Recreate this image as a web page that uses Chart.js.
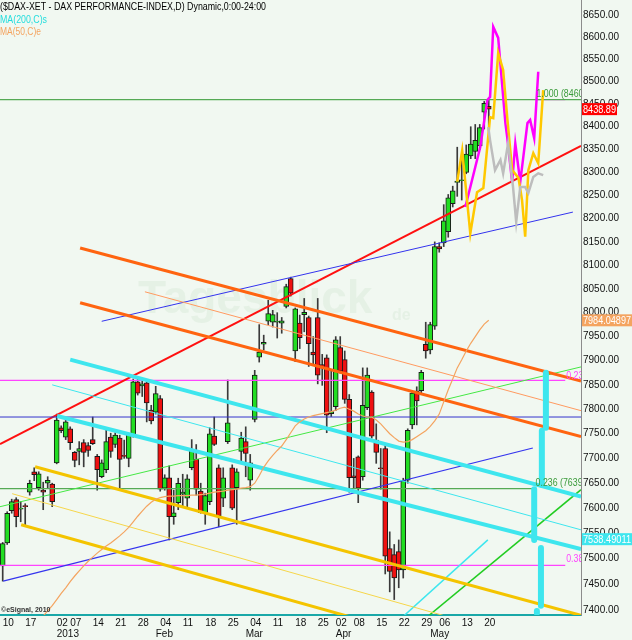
<!DOCTYPE html>
<html>
<head>
<meta charset="utf-8">
<script src="https://cdn.jsdelivr.net/npm/chart.js"></script>
<style>
  html, body { margin: 0; padding: 0; background: #f1f8f1; }
</style>
</head>
<body>
<canvas id="graph" width="632" height="640"></canvas>
<script>
// daily candles, index 0 = 10 Dec 2012 ... 108 = 21 May 2013
const opens = [7486,7531,7595,7617,7598,7605,7632,7673,7641,7636,7650,7648,7691,7762,7743,7760,7712,7714,7732,7726,
  7738,7704,7663,7677,7743,7728,7741,7706,7700,7747,7856,7848,7854,7798,7794,7822,7640,7661,7583,7611,
  7628,7620,7681,7698,7634,7591,7613,7745,7681,7620,7734,7681,7641,7714,7734,7656,7779,7907,7934,7982,
  7980,7980,7978,8013,8072,7920,7978,7996,7990,7918,7990,7892,7906,7791,7805,7927,7902,7820,7665,7703,
  7663,7803,7835,7737,7681,7720,7520,7508,7514,7478,7656,7768,7837,7838,7934,7922,7972,8140,8148,8172,
  8232,8278,8282,8300,8336,8346,8358,8432,8445];
const highs = [7532,7593,7618,7621,7613,7609,7656,7681,7673,7652,7663,7650,7790,7766,7780,7764,7714,7734,7738,7732,
  7784,7708,7697,7762,7751,7752,7747,7737,7751,7862,7862,7862,7860,7808,7847,7828,7667,7685,7636,7660,
  7668,7667,7738,7728,7650,7630,7762,7784,7687,7681,7860,7687,7679,7753,7764,7708,7880,7975,7953,8026,
  8005,8000,7990,8060,8075,8010,7995,8030,7993,7950,8030,7913,7912,7880,7950,7950,7920,7830,7700,7705,
  7885,7885,7838,7770,7720,7726,7553,7528,7537,7660,7760,7838,7846,7880,7980,7980,8150,8148,8230,8252,
  8270,8355,8330,8360,8400,8405,8405,8456,8460];
const lows = [7456,7528,7590,7563,7573,7565,7626,7655,7636,7597,7640,7603,7689,7752,7738,7718,7683,7687,7683,7704,
  7728,7636,7661,7671,7702,7722,7636,7700,7683,7743,7829,7826,7774,7770,7790,7634,7636,7537,7568,7597,
  7603,7601,7677,7626,7590,7568,7607,7726,7563,7603,7730,7597,7568,7693,7663,7636,7774,7897,7922,7975,
  7970,7947,7957,8010,8035,7898,7925,7960,7888,7890,7852,7849,7752,7785,7797,7874,7812,7632,7640,7611,
  7656,7799,7741,7690,7638,7470,7435,7420,7443,7462,7650,7760,7768,7830,7905,7914,7965,8128,8140,8160,
  8225,8248,8240,8297,8330,8330,8350,8395,8392];
const closes = [7530,7590,7613,7583,7600,7603,7650,7667,7669,7632,7656,7613,7778,7756,7774,7732,7696,7720,7712,7716,
  7730,7677,7691,7734,7714,7747,7698,7704,7747,7856,7833,7852,7813,7776,7832,7638,7661,7583,7591,7650,
  7632,7659,7714,7638,7591,7625,7750,7728,7585,7661,7772,7600,7673,7741,7710,7691,7870,7918,7938,7998,
  7996,7982,7983,8055,8041,8008,7948,8001,7935,7912,7870,7885,7788,7795,7943,7878,7820,7661,7661,7640,
  7808,7870,7745,7712,7679,7505,7475,7462,7478,7656,7757,7833,7817,7876,7920,7975,8140,8135,8195,8245,
  8260,8281,8284,8340,8362,8370,8398,8452,8438.89];

// MA(50,C)e
const ma50 = [null,null,null,null,null,null,null,null,7370,7388,7398,7408,7420,7432,7443,7455,7466,7476,7486,7495,
  7503,7511,7518,7525,7531,7538,7545,7553,7562,7573,7584,7594,7604,7612,7618,7621,7623,7624,7624,7625,
  7625,7625,7626,7626,7627,7628,7630,7632,7633,7634,7636,7637,7638,7640,7641,7643,7650,7665,7682,7695,
  7706,7716,7725,7738,7752,7766,7774,7780,7784,7787,7789,7791,7793,7795,7798,7802,7804,7800,7796,7790,
  7786,7784,7784,7778,7770,7760,7750,7742,7735,7733,7734,7738,7744,7750,7756,7765,7776,7790,7815,7840,
  7862,7885,7902,7920,7936,7950,7964,7976,7984];

// projection paths on the right
const magX = [102.8,106.1,107.7,108.3,109.0,110.1,111.7,112.1,113.2,113.9,115.0,116.6,117.2,118.1,119.0];
const magY = [8225,8355,8459,8466,8623,8598,8408,8377,8279,8363,8279,8408,8415,8375,8522];
const goldX = [101.0,102.1,103.9,105.4,106.8,108.3,109.0,110.1,111.2,112.1,113.2,114.6,115.4,116.1,116.8,117.9,119.0,120.1];
const goldY = [8280,8348,8168,8257,8266,8421,8419,8564,8526,8421,8305,8288,8240,8161,8305,8342,8320,8481];
const greyX = [107.9,108.3,109.4,110.6,111.2,112.3,113.4,114.1,115.0,116.1,116.8,117.9,119.0,120.1];
const greyY = [8399,8370,8305,8327,8298,8363,8268,8193,8268,8268,8255,8290,8298,8294];

// trend lines: [index, price] end points
const redTrend = [[-0.6, 7729], [128.5, 8358]];
const blueUpper = [[22, 7982], [126.7, 8214]];
const blueLower = [[0.1, 7456], [117.8, 7721]];
const orangeUpper = [[17.2, 8137], [128.5, 7858]];
const orangeLower = [[17.2, 8021], [128.5, 7744]];
const orangeThin = [[31.6, 8044], [128.5, 7797]];
const cyanUpper = [[15, 7902], [128.5, 7623]];
const cyanLower = [[12.1, 7786], [128.5, 7519]];
const cyanThin = [[11, 7850], [128.5, 7557]];
const goldUpper = [[7.2, 7683], [132, 7381]];
const goldLower = [[4.1, 7567], [79.4, 7381]];
const yellowThin = [[2.1, 7629], [101.2, 7381]];
const greenRise = [[-0.6, 7603], [128.5, 7887]];
const greenSteep = [[93.6, 7381], [128.5, 7637]];
const cyanSteep = [[88.2, 7381], [107.8, 7537]];
const blueLevel = 7784;
const greenFib = [[8460, 128.5, '1.000 (8460.11)'], [7639, 117.8, '0.236 (7639.51)']];
const magentaFib = [[7859, 125, '0.236 (7859.27)'], [7487, 125, '0.382 (7487.22)']];
const magentaTop = [[118.7, 8460], [125, 8460]];

// cyan vertical markers
const markX = [120.7, 119.8, 118.1, 119.6, 118.7];
const markTop = [7875, 7756, 7638, 7521, 7398];
const markBot = [7762, 7647, 7537, 7408, 7394];

const yTicks = [];
for (let v = 7400; v <= 8650; v += 50) yTicks.push(v);
const xTickIdx = [0,5,12,15,20,25,30,34,35,40,45,50,54,55,60,65,70,74,78,83,88,93,95,97,102,107];
const xTickTop = ['10','17','02','07','14','21','28','','04','11','18','25','','04','11','18','25','02','08','15','22','29','','06','13','20'];
const xTickBottom = ['','','2013','','','','','Feb','','','','','Mar','','','','','Apr','','','','','May','','',''];

const lastClose = 8438.89;
const ma50Last = 7984.04897;
const ma200Last = 7538.49011;

const sans = '"Liberation Sans", Arial, sans-serif';

function line(pts, color, width, order) {
  return {
    type: 'line',
    data: pts.map(p => ({x: p[0], y: p[1]})),
    borderColor: color,
    borderWidth: width,
    pointRadius: 0,
    tension: 0,
    fill: false,
    order: order || 2
  };
}
function zip(xs, ys) {
  return xs.map((x, i) => [x, ys[i]]);
}

const idx = opens.map((_, i) => i);
const datasets = [];

datasets.push({
  type: 'bar',
  data: idx.map(i => ({x: i, y: [lows[i], highs[i]]})),
  backgroundColor: '#3a3a3a',
  borderWidth: 0,
  barThickness: 1,
  grouped: false,
  order: 6
});
datasets.push({
  type: 'bar',
  data: idx.map(i => ({x: i, y: [opens[i], closes[i]]})),
  backgroundColor: idx.map(i => closes[i] >= opens[i] ? '#22dd22' : '#ee1111'),
  borderColor: '#1a1a1a',
  borderWidth: 1,
  borderSkipped: false,
  barThickness: 5,
  grouped: false,
  order: 5
});

datasets.push(line(goldUpper, '#f4c400', 3));
datasets.push(line(goldLower, '#f4c400', 3));
datasets.push(line(yellowThin, '#f6d64a', 1));
datasets.push(line(cyanUpper, '#3ee6ee', 4));
datasets.push(line(cyanLower, '#3ee6ee', 4));
datasets.push(line(cyanThin, '#3ee6ee', 1));
datasets.push(line(orangeUpper, '#ff6410', 3));
datasets.push(line(orangeLower, '#ff6410', 3));
datasets.push(line(orangeThin, '#ff9a60', 1));
datasets.push(line(greenRise, '#44e844', 1));
datasets.push(line(greenSteep, '#22cc22', 1.5));
datasets.push(line(cyanSteep, '#3ee6ee', 1.5));
datasets.push(line(blueUpper, '#3333ee', 1));
datasets.push(line(blueLower, '#3333ee', 1.2));
datasets.push(line([[-0.6, blueLevel], [128.5, blueLevel]], '#3333cc', 1));
datasets.push(line(redTrend, '#ff1010', 2));
greenFib.forEach(f => datasets.push(line([[-0.6, f[0]], [f[1], f[0]]], '#55aa55', 1.2)));
magentaFib.forEach(f => datasets.push(line([[-0.6, f[0]], [f[1], f[0]]], '#ff44ff', 1.2)));
datasets.push(line(magentaTop, '#ff44ff', 1.2));

datasets.push(Object.assign(line(idx.map(i => [i, ma50[i]]).filter(p => p[1] !== null), '#f4a460', 1.2), {order: 1}));
datasets.push(line(zip(greyX, greyY), '#bdbdbd', 2.5, 1));
datasets.push(line(zip(goldX, goldY), '#ffc800', 2.5, 1));
datasets.push(line(zip(magX, magY), '#ff00ff', 2.5, 1));
markX.forEach((x, i) => {
  const d = line([[x, markTop[i]], [x, markBot[i]]], '#3ee6ee', 6, 1);
  d.borderCapStyle = 'round';
  datasets.push(d);
});

// text squeezed sideways to a given width (the source uses a narrow face)
function fitText(c, text, x, y, color, width) {
  c.save();
  c.font = '11px ' + sans;
  const w = c.measureText(text).width;
  c.translate(x, y);
  c.scale(width / w, 1);
  c.fillStyle = color;
  c.textBaseline = 'middle';
  c.textAlign = 'left';
  c.fillText(text, 0, 0);
  c.restore();
}
function narrowText(c, text, x, y, color) {
  c.save();
  c.font = '11px ' + sans;
  const w = c.measureText(text).width;
  c.restore();
  fitText(c, text, x, y, color, w * 0.8);
}

function tag(c, y, text, bg, w, tw) {
  c.fillStyle = bg;
  c.fillRect(582, y - 6, w, 12);
  fitText(c, text, 583, y + 0.5, '#ffffff', tw);
}

const decor = {
  id: 'decor',
  beforeDatasetsDraw(chart) {
    const c = chart.ctx;
    c.save();
    c.fillStyle = 'rgba(170, 205, 170, 0.17)';
    c.font = 'bold 46px ' + sans;
    c.textBaseline = 'alphabetic';
    c.fillText('Tagesblick', 138, 313);
    c.font = 'bold 16px ' + sans;
    c.fillText('de', 392, 320);
    c.restore();
  },
  afterDraw(chart) {
    const c = chart.ctx;
    const ys = chart.scales.y, xs = chart.scales.x, a = chart.chartArea;
    fitText(c, '($DAX-XET - DAX PERFORMANCE-INDEX,D) Dynamic,0:00-24:00', 0, 7, '#000000', 266);
    fitText(c, 'MA(200,C)s', 0, 20, '#22dddd', 47);
    fitText(c, 'MA(50,C)e', 0, 32, '#f4a460', 41);
    c.save();
    c.font = 'bold 7px ' + sans;
    c.fillStyle = '#333333';
    c.textBaseline = 'middle';
    c.fillText('\u00a9eSignal, 2010', 1, 610);
    c.restore();

    // fib labels, cut at the plot edge
    c.save();
    c.beginPath();
    c.rect(a.left, a.top, a.width, a.height);
    c.clip();
    narrowText(c, greenFib[0][2], xs.getPixelForValue(118.6), ys.getPixelForValue(greenFib[0][0]) - 6, '#3a9a3a');
    narrowText(c, greenFib[1][2], xs.getPixelForValue(118.4), ys.getPixelForValue(greenFib[1][0]) - 6, '#3a9a3a');
    narrowText(c, magentaFib[0][2], xs.getPixelForValue(125.2), ys.getPixelForValue(magentaFib[0][0]) - 5, '#ff44ff');
    narrowText(c, magentaFib[1][2], xs.getPixelForValue(125.2), ys.getPixelForValue(magentaFib[1][0]) - 6, '#ff44ff');
    c.restore();

    tag(c, ys.getPixelForValue(lastClose), lastClose.toFixed(2), '#ff0000', 35, 33);
    tag(c, ys.getPixelForValue(ma50Last), String(ma50Last), '#f4a460', 50, 48);
    tag(c, ys.getPixelForValue(ma200Last), String(ma200Last), '#3ee6ee', 50, 48);
  }
};

const graph = document.getElementById('graph').getContext('2d');

let myChart = new Chart(graph, {
  type: 'bar',
  data: { datasets: datasets },
  options: {
    responsive: false,
    animation: false,
    events: [],
    layout: { padding: 0 },
    plugins: { legend: { display: false }, tooltip: { enabled: false } },
    scales: {
      x: {
        type: 'linear',
        min: -0.6,
        max: 128.5,
        offset: false,
        afterBuildTicks: s => { s.ticks = xTickIdx.map(v => ({value: v})); },
        afterFit: s => { s.height = 25; s.paddingLeft = 0; s.paddingRight = 0; },
        ticks: {
          autoSkip: false,
          maxRotation: 0,
          align: 'start',
          padding: 3,
          color: '#111111',
          font: { family: sans, size: 10, lineHeight: 1.1 },
          callback: v => {
            const k = xTickIdx.indexOf(v);
            return xTickBottom[k] ? [xTickTop[k], xTickBottom[k]] : xTickTop[k];
          }
        },
        grid: { display: false, drawTicks: false },
        border: { display: true, color: '#1aa8a8', width: 2 }
      },
      y: {
        type: 'logarithmic',
        position: 'right',
        min: 7390,
        max: 8684,
        afterBuildTicks: s => { s.ticks = yTicks.map(v => ({value: v})); },
        afterFit: s => { s.width = 51; s.paddingTop = 0; s.paddingBottom = 0; },
        ticks: {
          autoSkip: false,
          padding: 2,
          color: '#111111',
          font: { family: sans, size: 10 },
          callback: v => Number(v).toFixed(2)
        },
        grid: { display: false, drawTicks: false },
        border: { display: true, color: '#8c8c8c', width: 1 }
      }
    }
  },
  plugins: [decor]
});
</script>
</body>
</html>
